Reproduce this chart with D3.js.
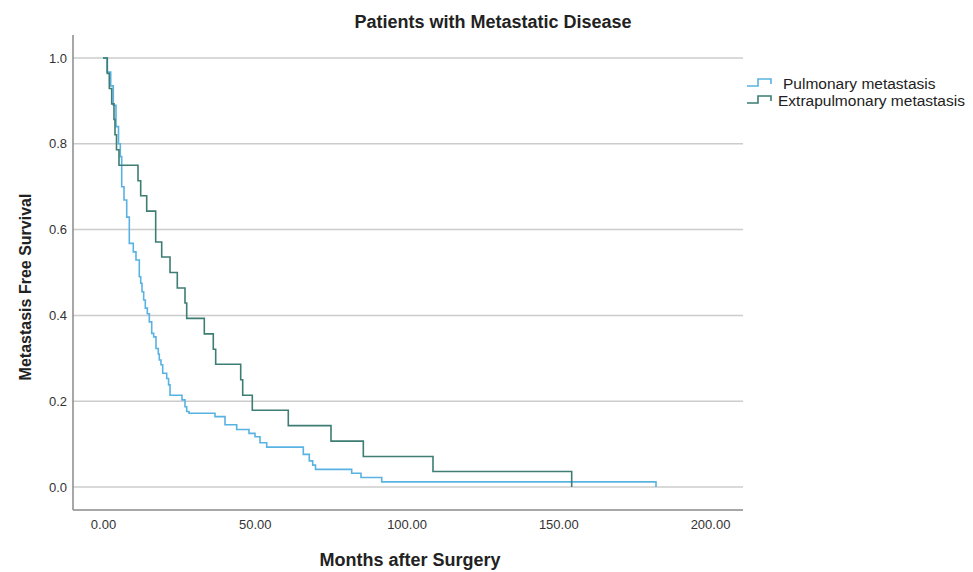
<!DOCTYPE html>
<html>
<head>
<meta charset="utf-8">
<script src="https://cdn.jsdelivr.net/npm/d3@7"></script>
<style>
  body { margin: 0; background: #fff; }
  svg { display: block; font-family: "Liberation Sans", Arial, sans-serif; }
</style>
</head>
<body>
<svg id="chart" width="973" height="572"></svg>
<script>
// ---- data ----
const title = "Patients with Metastatic Disease";
const xTitle = "Months after Surgery";
const yTitle = "Metastasis Free Survival";
const seriesNames = ["Pulmonary metastasis", "Extrapulmonary metastasis"];
const xTicks = [0, 50, 100, 150, 200];
const yTicks = [0, 0.2, 0.4, 0.6, 0.8, 1.0];

// Pulmonary metastasis: event times (months) and survival after each event
const pulmTimes = [0, 1.32, 2.54, 3.39, 4.28, 5.11, 5.70, 6.16, 6.92, 7.81, 8.67, 9.98, 10.87, 11.96, 12.42,
  12.85, 13.40, 13.94, 14.60, 15.26, 16.05, 16.70, 17.46, 18.22, 18.55, 19.10, 19.67, 20.99, 21.60, 22.08,
  26.03, 27.02, 27.58, 28.34, 36.90, 40.20, 44.05, 48.11, 50.08, 51.73, 53.94, 66.00, 67.97, 69.09,
  70.02, 81.94, 85.01, 91.83, 182.21];
const pulmSurv = [1.0, 0.967, 0.935, 0.890, 0.840, 0.800, 0.770, 0.700, 0.669, 0.629, 0.568, 0.548, 0.529, 0.490, 0.475,
  0.455, 0.436, 0.417, 0.404, 0.385, 0.358, 0.350, 0.323, 0.310, 0.296, 0.285, 0.265, 0.253, 0.238, 0.214,
  0.203, 0.187, 0.176, 0.172, 0.164, 0.145, 0.134, 0.125, 0.117, 0.103, 0.093, 0.076, 0.061, 0.051,
  0.041, 0.032, 0.022, 0.012, 0.0];

// Extrapulmonary metastasis
const extraTimes = [0, 1.42, 2.08, 2.87, 3.62, 3.95, 4.45, 5.27, 11.53, 12.42, 14.40, 17.36, 19.34, 22.08,
  24.48, 27.02, 27.58, 33.38, 36.34, 37.13, 45.37, 46.03, 49.19, 61.05, 75.12, 85.77, 108.73, 154.43];
const extraSurv = [1.0, 0.964, 0.929, 0.893, 0.857, 0.821, 0.786, 0.750, 0.714, 0.679, 0.643, 0.571, 0.536, 0.500,
  0.464, 0.429, 0.393, 0.357, 0.321, 0.286, 0.250, 0.214, 0.179, 0.143, 0.107, 0.071, 0.036, 0.0];

const colors = ["#58b2e2", "#3d7d73"];

// ---- layout ----
const svg = d3.select("#chart");
const x = d3.scaleLinear().domain([0, 200]).range([103, 710]);
const y = d3.scaleLinear().domain([0, 1]).range([487, 58]);
const plotLeft = 73, plotRight = 743, plotTop = 35, plotBottom = 510;

// gridlines
svg.append("g").selectAll("line").data(yTicks).join("line")
  .attr("x1", plotLeft).attr("x2", plotRight)
  .attr("y1", d => y(d)).attr("y2", d => y(d))
  .attr("stroke", "#cccccc").attr("stroke-width", 1.5);

// y axis (labels only, no tick marks)
const yAxis = d3.axisLeft(y).tickValues(yTicks).tickFormat(d3.format(".1f")).tickSize(0).tickPadding(6);
const gy = svg.append("g").attr("transform", `translate(${plotLeft},0)`).call(yAxis);
gy.select(".domain").remove();
gy.selectAll("text").attr("font-size", 13).attr("fill", "#333")
  .attr("font-family", "Liberation Sans, Arial, sans-serif");

// x axis
const xAxis = d3.axisBottom(x).tickValues(xTicks).tickFormat(d3.format(".2f")).tickSize(0).tickPadding(10);
const gx = svg.append("g").attr("transform", `translate(0,${plotBottom})`).call(xAxis);
gx.select(".domain").remove();
gx.selectAll("text").attr("font-size", 13).attr("fill", "#333")
  .attr("font-family", "Liberation Sans, Arial, sans-serif");

// axis lines
svg.append("line").attr("x1", plotLeft).attr("x2", plotLeft).attr("y1", plotTop).attr("y2", plotBottom)
  .attr("stroke", "#8a8a8a").attr("stroke-width", 1.5);
svg.append("line").attr("x1", plotLeft).attr("x2", plotRight).attr("y1", plotBottom).attr("y2", plotBottom)
  .attr("stroke", "#8a8a8a").attr("stroke-width", 1.5);

// curves
const line = d3.line().x(d => x(d[0])).y(d => y(d[1])).curve(d3.curveStepAfter);
const series = [
  d3.zip(pulmTimes, pulmSurv),
  d3.zip(extraTimes, extraSurv)
];
series.forEach((pts, i) => {
  svg.append("path").datum(pts).attr("d", line)
    .attr("fill", "none").attr("stroke", colors[i]).attr("stroke-width", 1.6);
});

// titles
svg.append("text").attr("x", 493).attr("y", 28).attr("text-anchor", "middle")
  .attr("font-size", 18).attr("font-weight", "bold").attr("fill", "#222").text(title);
svg.append("text").attr("x", 410).attr("y", 566).attr("text-anchor", "middle")
  .attr("font-size", 18).attr("font-weight", "bold").attr("fill", "#222").text(xTitle);
svg.append("text").attr("transform", "translate(31,287) rotate(-90)").attr("text-anchor", "middle")
  .attr("font-size", 16).attr("font-weight", "bold").attr("fill", "#222").text(yTitle);

// legend
const legY = [83, 100];
const legTextX = [783, 778];
seriesNames.forEach((name, i) => {
  const ly = legY[i];
  svg.append("path")
    .attr("d", `M747,${ly + 3}H758V${ly - 4}H771V${ly + 1}`)
    .attr("fill", "none").attr("stroke", colors[i]).attr("stroke-width", 1.6);
  svg.append("text").attr("x", legTextX[i]).attr("y", ly + 5.5)
    .attr("font-size", 15.5).attr("fill", "#222").text(name);
});
</script>
</body>
</html>
